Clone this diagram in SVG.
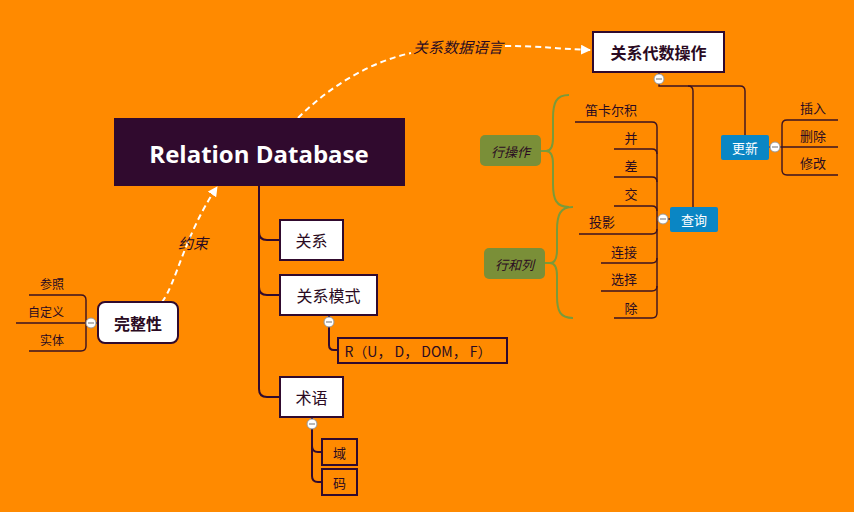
<svg xmlns="http://www.w3.org/2000/svg" width="854" height="512" viewBox="0 0 854 512">
<defs>
<style>
.bg{fill:#FF8A00}
.ln{fill:none;stroke:#300A2E;stroke-width:2;stroke-linecap:round}
.lr{fill:none;stroke:#3A1222;stroke-width:1.4}
.box{fill:#fff;stroke:#300A2E;stroke-width:2}
.obox{fill:none;stroke:#300A2E;stroke-width:2}
.blue{fill:#0A86C4}
.green{fill:#7A8F38}
.brace{fill:none;stroke:#7A9A3A;stroke-width:2}
.dash{fill:none;stroke:#fff;stroke-width:2;stroke-dasharray:6 4}
.t{font-family:"Noto Sans CJK SC","Noto Sans",sans-serif;fill:#2A0A22;text-anchor:middle;dominant-baseline:central}
.s13{font-size:13px}
.s12{font-size:12px}
.s15{font-size:15px}
.s16{font-size:16px}
.b{font-weight:bold}
.i{font-style:italic}
.w{fill:#fff}
.col circle{fill:#fff;stroke:#999;stroke-width:1}
.col line{stroke:#888;stroke-width:1.2}
</style>
<marker id="ah" viewBox="0 0 10 10" refX="9" refY="5" markerWidth="5" markerHeight="5" orient="auto" markerUnits="strokeWidth">
<path d="M0,0 L10,5 L0,10 z" fill="#fff"/>
</marker>
</defs>
<rect class="bg" x="0" y="0" width="854" height="512"/>

<g id="connectors">
<path class="ln" d="M259,186 V389 Q259,397 267,397 H280"/>
<path class="ln" d="M259,232 Q259,240 267,240 H280"/>
<path class="ln" d="M259,287 Q259,295 267,295 H280"/>
<path class="ln" d="M329,315 V345 Q329,350 334,350 H337"/>
<path class="ln" d="M312,417 V476 Q312,482 318,482 H321"/>
<path class="ln" d="M312,446 Q312,452 318,452 H321"/>
<path class="lr" d="M97,323 H16"/>
<path class="lr" d="M29,295 H81 Q86,295 86,300 V346 Q86,351 81,351 H29"/>
<path class="lr" d="M659,72 V86 H740 Q745,86 745,91 V135"/>
<path class="lr" d="M688,86 Q693,86 693,91 V207"/>
<path class="lr" d="M769,147 H838"/>
<path class="lr" d="M838,120 H787 Q782,120 782,125 V170 Q782,175 787,175 H838"/>
<path class="lr" d="M670,219 H657"/>
<path class="lr" d="M575,122 H652 Q657,122 657,127 V313 Q657,318 652,318 H614"/>
<path class="lr" d="M614,149 H652 Q657,149 657,154"/>
<path class="lr" d="M614,177 H652 Q657,177 657,182"/>
<path class="lr" d="M614,206 H652 Q657,206 657,211"/>
<path class="lr" d="M579,234 H652 Q657,234 657,229"/>
<path class="lr" d="M601,263 H652 Q657,263 657,258"/>
<path class="lr" d="M601,291 H652 Q657,291 657,286"/>
<path class="brace" d="M541,151 H546"/>
<path class="brace" d="M569,95 C556,95 553,103 553,118 V138 C553,147 550,151 546,151 C550,151 553,155 553,164 V184 C553,199 556,207 569,207"/>
<path class="brace" d="M545,263 H550"/>
<path class="brace" d="M573,207 C560,207 557,215 557,230 V250 C557,259 554,263 550,263 C554,263 557,267 557,276 V296 C557,311 560,318 573,318"/>
<path class="dash" d="M162,302 C176,284 184,236 217,187" marker-end="url(#ah)"/>
<path class="dash" d="M298,118 C330,86 370,62 411,53"/>
<path class="dash" d="M505,46 C540,46 560,49 590,50" marker-end="url(#ah)"/>
<text class="t s15 i" x="193" y="242">约束</text>
<text class="t s15 i" x="458" y="46">关系数据语言</text>
</g>

<g id="root">
<rect x="114" y="118" width="291" height="68" fill="#300A2E"/>
<text class="t w b" x="259" y="153" font-size="24" style="font-family:'Open Sans','Noto Sans',sans-serif">Relation Database</text>
</g>

<g id="guanxi">
<rect class="box" x="280" y="220" width="63" height="40"/>
<text class="t s16" x="311.5" y="240">关系</text>
</g>
<g id="guanximoshi">
<rect class="box" x="280" y="275" width="97" height="40"/>
<text class="t s16" x="328.5" y="295">关系模式</text>
</g>
<g id="R">
<rect class="obox" x="338" y="338" width="169" height="25"/>
<text class="t" x="418" y="351" font-size="14">R（U， D， DOM， F）</text>
</g>
<g id="shuyu">
<rect class="box" x="280" y="377" width="63" height="40"/>
<text class="t s16" x="311.5" y="397">术语</text>
</g>
<g id="yu">
<rect class="obox" x="322" y="439" width="35" height="26"/>
<text class="t s13" x="339.5" y="452">域</text>
</g>
<g id="ma">
<rect class="obox" x="322" y="469" width="35" height="26"/>
<text class="t s13" x="339.5" y="482">码</text>
</g>

<g id="wanzhengxing">
<rect class="box" x="98" y="302" width="80" height="41" rx="7"/>
<text class="t s16 b" x="138" y="323">完整性</text>
</g>
<g id="canzhao"><text class="t s12" x="52" y="283">参照</text></g>
<g id="zidingyi"><text class="t s12" x="46" y="311">自定义</text></g>
<g id="shiti"><text class="t s12" x="52" y="339">实体</text></g>

<g id="guanxidaishu">
<rect class="box" x="593" y="32" width="131" height="40"/>
<text class="t s16 b" x="658.5" y="52">关系代数操作</text>
</g>
<g id="gengxin">
<rect class="blue" x="721" y="135" width="48" height="25" rx="2"/>
<text class="t s13 w" x="745" y="147.5">更新</text>
</g>
<g id="charu"><text class="t s13" x="813" y="107">插入</text></g>
<g id="shanchu"><text class="t s13" x="813" y="135">删除</text></g>
<g id="xiugai"><text class="t s13" x="813" y="162">修改</text></g>

<g id="chaxun">
<rect class="blue" x="670" y="207" width="48" height="25" rx="2"/>
<text class="t s13 w" x="694" y="219.5">查询</text>
</g>
<g id="dikaer"><text class="t s13" x="611" y="109">笛卡尔积</text></g>
<g id="bing"><text class="t s13" x="631" y="137">并</text></g>
<g id="cha"><text class="t s13" x="631" y="165">差</text></g>
<g id="jiao"><text class="t s13" x="631" y="193">交</text></g>
<g id="touying"><text class="t s13" x="602" y="221">投影</text></g>
<g id="lianjie"><text class="t s13" x="624" y="251">连接</text></g>
<g id="xuanze"><text class="t s13" x="624" y="278">选择</text></g>
<g id="chu"><text class="t s13" x="631" y="307">除</text></g>

<g id="hangcaozuo">
<rect class="green" x="480" y="135" width="61" height="31" rx="5"/>
<text class="t s13 i" x="510.5" y="151">行操作</text>
</g>
<g id="hanghelie">
<rect class="green" x="484" y="248" width="61" height="31" rx="5"/>
<text class="t s13 i" x="514.5" y="264">行和列</text>
</g>

<g id="collapse" class="col">
<circle cx="329" cy="322" r="5"/><line x1="326" y1="322" x2="332" y2="322"/>
<circle cx="312" cy="424" r="5"/><line x1="309" y1="424" x2="315" y2="424"/>
<circle cx="91" cy="323" r="5"/><line x1="88" y1="323" x2="94" y2="323"/>
<circle cx="659" cy="79" r="5"/><line x1="656" y1="79" x2="662" y2="79"/>
<circle cx="775" cy="147" r="5"/><line x1="772" y1="147" x2="778" y2="147"/>
<circle cx="663" cy="219" r="5"/><line x1="660" y1="219" x2="666" y2="219"/>
</g>
</svg>
